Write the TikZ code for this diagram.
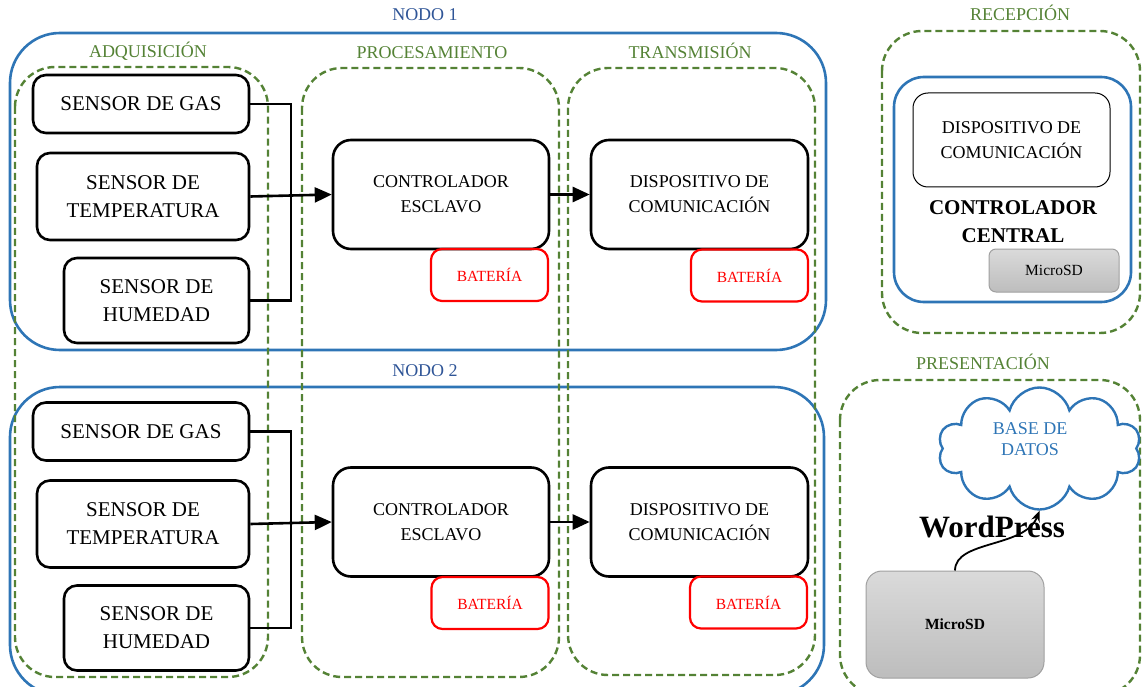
\documentclass[tikz,border=0pt]{standalone}
\usepackage{fontspec}
\setmainfont{Liberation Serif}
\usetikzlibrary{arrows.meta,shapes.symbols,calc}
\definecolor{grn}{HTML}{548235}
\definecolor{blu}{HTML}{2E75B6}
\definecolor{blutxt}{HTML}{2F5597}
\definecolor{msdtop}{HTML}{DADADA}
\definecolor{msdbot}{HTML}{BDBDBD}
\definecolor{msdline}{HTML}{A0A0A0}
\begin{document}
\begin{tikzpicture}[x=1pt,y=-1pt,
  box/.style={draw=black, line width=2.6pt, rounded corners=13pt, align=center, inner sep=0pt, font=\fontsize{21pt}{28pt}\selectfont},
  ctl/.style={draw=black, line width=2.6pt, rounded corners=18pt, align=center, inner sep=0pt, font=\fontsize{18pt}{25pt}\selectfont, minimum width=216pt, minimum height=109pt},
  bat/.style={draw=red, text=red, line width=2.2pt, rounded corners=11pt, inner sep=0pt, font=\fontsize{15.5pt}{18pt}\selectfont, minimum width=117pt, minimum height=52pt},
  grp/.style={draw=grn, line width=2.4pt, dash pattern=on 7pt off 4pt, rounded corners=40pt},
  nodo/.style={draw=blu, line width=2.6pt, rounded corners=50pt},
  glabel/.style={text=grn, font=\fontsize{18pt}{20pt}\selectfont, inner sep=0pt, anchor=base},
  blabel/.style={text=blutxt, font=\fontsize{18pt}{20pt}\selectfont, inner sep=0pt, anchor=base},
  conn/.style={line width=2.6pt},
  arr/.style={conn, -{Triangle[length=17pt,width=15pt]}},
  msd/.style={draw=msdline, line width=1pt, top color=msdtop, bottom color=msdbot, inner sep=0pt, font=\fontsize{15.5pt}{18pt}\selectfont},
]
\useasboundingbox (0,0) rectangle (1143,687);
\clip (0,0) rectangle (1143,687);

% blue node frames
\draw[nodo] (10,33) rectangle (826,350);
\draw[nodo] (10,387) rectangle (824,695);
\node[blabel] (n1) at (425,21) {NODO 1};
\node[blabel] (n2) at (425,376) {NODO 2};

% green stage frames
\draw[grp] (15,67) rectangle (268,677);
\draw[grp] (302,68) rectangle (559,677);
\draw[grp] (568,68) rectangle (815,675);
\node[glabel] (la) at (148,58) {ADQUISICIÓN};
\node[glabel] (lp) at (432,59) {PROCESAMIENTO};
\node[glabel] (lt) at (690,59) {TRANSMISIÓN};

% ---- Nodo 1
\node[box, minimum width=216pt, minimum height=58pt] (g1) at (141,104) {SENSOR DE GAS};
\node[box, minimum width=212pt, minimum height=87pt] (t1) at (143,196.5) {SENSOR DE\\TEMPERATURA};
\node[box, minimum width=185pt, minimum height=85pt] (h1) at (156.5,300.5) {SENSOR DE\\HUMEDAD};
\node[ctl] (c1) at (441,194.5) {CONTROLADOR\\ESCLAVO};
\node[bat] (b1a) at (489.5,275) {BATERÍA};
\node[ctl, minimum width=217pt] (d1) at (699.5,194.5) {DISPOSITIVO DE\\COMUNICACIÓN};
\node[bat] (b1b) at (749.5,275.5) {BATERÍA};
\coordinate (j1a) at (291,104);
\coordinate (j1b) at (291,300.5);
\draw[conn] (g1.east) -- (j1a) -- (j1b) -- (h1.east);
\draw[arr] (t1.east) -- (c1.west);
\draw[arr] (c1.east) -- (d1.west);

% ---- Nodo 2
\node[box, minimum width=216pt, minimum height=58pt] (g2) at (141,431.5) {SENSOR DE GAS};
\node[box, minimum width=212pt, minimum height=87pt] (t2) at (143,524) {SENSOR DE\\TEMPERATURA};
\node[box, minimum width=185pt, minimum height=85pt] (h2) at (156.5,628) {SENSOR DE\\HUMEDAD};
\node[ctl] (c2) at (441,522) {CONTROLADOR\\ESCLAVO};
\node[bat] (b2a) at (490,603) {BATERÍA};
\node[ctl, minimum width=217pt] (d2) at (699.5,522) {DISPOSITIVO DE\\COMUNICACIÓN};
\node[bat] (b2b) at (748.5,602.5) {BATERÍA};
\coordinate (j2a) at (291,431.5);
\coordinate (j2b) at (291,628);
\draw[conn] (g2.east) -- (j2a) -- (j2b) -- (h2.east);
\draw[arr] (t2.east) -- (c2.west);
\draw[arr] (c2.east) -- (d2.west);

% ---- Recepcion
\draw[grp] (882,31) rectangle (1140,333);
\node[glabel] (lr) at (1020,21) {RECEPCIÓN};
\draw[draw=blu, line width=2.6pt, rounded corners=30pt] (894,77) rectangle (1131,302);
\node[draw=black, line width=1pt, rounded corners=15pt, minimum width=197pt, minimum height=94pt, inner sep=0pt, align=center, font=\fontsize{18pt}{25pt}\selectfont] (rd) at (1011.5,140) {DISPOSITIVO DE\\COMUNICACIÓN};
\node[font=\bfseries\fontsize{21pt}{28pt}\selectfont, align=center, inner sep=0pt] (cc) at (1013,222) {CONTROLADOR\\CENTRAL};
\node[msd, rounded corners=7pt, minimum width=130pt, minimum height=43pt] (ms1) at (1054,270.5) {MicroSD};

% ---- Presentacion
\draw[grp] (840,380) rectangle (1140,695);
\node[glabel] (lpr) at (983,369) {PRESENTACIÓN};
\node[cloud, cloud puffs=10, cloud ignores aspect, draw=blu, line width=2.4pt, minimum width=203pt, minimum height=122pt, inner sep=0pt] (db) at (1039.5,448.5) {};
\node[text=blu, align=center, inner sep=0pt, font=\fontsize{18pt}{21pt}\selectfont] (dbt) at (1030,439) {BASE DE\\DATOS};
\node[font=\bfseries\fontsize{31pt}{34pt}\selectfont, inner sep=0pt] (wp) at (992,527) {WordPress};
\node[msd, rounded corners=16pt, minimum width=178pt, minimum height=107pt, font=\bfseries\fontsize{15.5pt}{18pt}\selectfont] (ms2) at (955,624.5) {MicroSD};
\draw[line width=1.8pt, -{Stealth[length=11pt,width=9pt]}] (ms2.north) .. controls (955,540) and (1025,548) .. (db.south);
\end{tikzpicture}
\end{document}
